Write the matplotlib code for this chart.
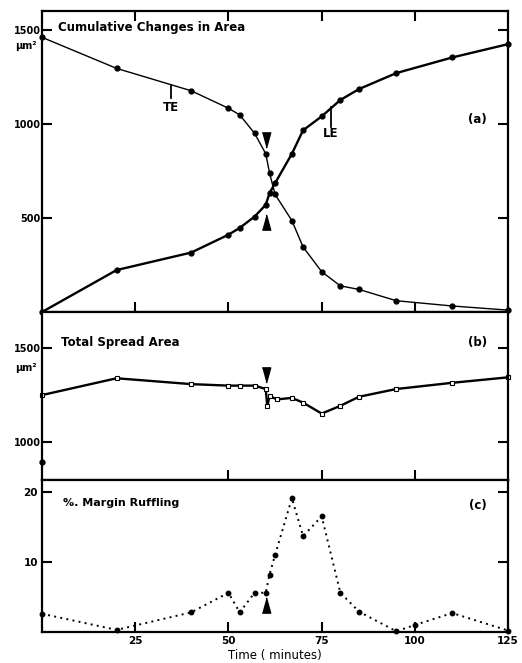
import matplotlib
matplotlib.use('Agg')
import matplotlib.pyplot as plt

plt.rcParams['font.family'] = ['DejaVu Sans']
plt.rcParams['font.weight'] = 'bold'

# ---- data ----
times = [0, 20, 40, 50, 53, 57, 60, 61, 62.5, 67, 70, 75, 80, 85, 95, 110, 125]
te_area = [1460, 1295, 1176, 1083, 1048, 950, 841, 740, 625, 486, 346, 214, 139, 120, 60, 32, 10]
le_area = [0, 223, 316, 411, 447, 507, 570, 632, 685, 841, 966, 1040, 1127, 1185, 1270, 1353, 1424]

spread_times = [0, 20, 40, 50, 53, 57, 60, 60.4, 61, 63, 67, 70, 75, 80, 85, 95, 110, 125]
spread_area = [1250, 1339, 1308, 1300, 1300, 1300, 1282, 1190, 1245, 1227, 1235, 1210, 1152,
               1193, 1241, 1282, 1315, 1344]
stray_time = [0]
stray_area = [895]

ruffle_times = [0, 20, 40, 50, 53, 57, 60, 61, 62.5, 67, 70, 75, 80, 85, 95, 100, 110, 125]
ruffle_pct = [2.6, 0.3, 2.8, 5.6, 2.8, 5.6, 5.6, 8.2, 11.0, 19.1, 13.7, 16.5, 5.6, 2.9, 0.1, 1.0, 2.7, 0.2]

treat_time = 60
x_ticks = [25, 50, 75, 100]

fig = plt.figure(figsize=(5.22, 6.63), dpi=100)
left, width = 0.0805, 0.893
ax_a = fig.add_axes([left, 0.5294, width, 0.4540])
ax_b = fig.add_axes([left, 0.2760, width, 0.2534])
ax_c = fig.add_axes([left, 0.0468, width, 0.2292])

for ax in (ax_a, ax_b, ax_c):
    ax.set_xlim(0, 125)
    for s in ax.spines.values():
        s.set_linewidth(1.6)
    ax.tick_params(direction='in', length=7, width=1.5, labelsize=7, pad=1,
                   left=True, right=True, top=True, bottom=True)

# triangle arrowhead shape (tall and narrow)
tri_down = [(-0.55, 1.0), (0.55, 1.0), (0.0, -1.0)]
tri_up = [(-0.55, -1.0), (0.55, -1.0), (0.0, 1.0)]

# ===== (a) cumulative changes =====
ax_a.plot(times, te_area, color='black', lw=1.0, marker='o', ms=3.5, clip_on=False)
ax_a.plot(times, le_area, color='black', lw=1.7, marker='o', ms=3.5, clip_on=False)
ax_a.set_ylim(0, 1600)
ax_a.set_yticks([500, 1000, 1500])
ax_a.set_yticklabels(['500', '1000', '1500'])
ax_a.set_xticks(x_ticks)
ax_a.tick_params(labelbottom=False)
ax_a.text(0.035, 0.945, 'Cumulative Changes in Area', transform=ax_a.transAxes,
          fontsize=8.5, va='center')
ax_a.text(0.935, 0.64, '(a)', transform=ax_a.transAxes, fontsize=8.5, va='center', ha='center')
ax_a.text(-0.012, 0.885, 'μm²', transform=ax_a.transAxes, fontsize=7, ha='right', va='center')
# TE / LE markers
ax_a.plot([34.6, 34.6], [1138, 1207], color='black', lw=1.3)
ax_a.text(34.6, 1085, 'TE', fontsize=8.5, ha='center', va='center')
ax_a.plot([77.5, 77.5], [985, 1090], color='black', lw=1.3)
ax_a.text(77.5, 948, 'LE', fontsize=8.5, ha='center', va='center')
ax_a.plot([treat_time], [912], marker=tri_down, ms=11, color='black', ls='none')
ax_a.plot([treat_time], [480], marker=tri_up, ms=11, color='black', ls='none')

# ===== (b) total spread area =====
ax_b.plot(spread_times, spread_area, color='black', lw=1.7, marker='s', ms=3,
          mfc='white', mec='black', mew=0.8, clip_on=False)
ax_b.plot(stray_time, stray_area, color='black', marker='o', ms=3.5, ls='none', clip_on=False)
ax_b.set_ylim(800, 1690)
ax_b.set_yticks([1000, 1500])
ax_b.set_yticklabels(['1000', '1500'])
ax_b.set_xticks([50, 75, 100])
ax_b.tick_params(labelbottom=False, top=False)
ax_b.text(0.04, 0.82, 'Total Spread Area', transform=ax_b.transAxes, fontsize=8.5, va='center')
ax_b.text(0.935, 0.82, '(b)', transform=ax_b.transAxes, fontsize=8.5, va='center', ha='center')
ax_b.text(-0.012, 0.665, 'μm²', transform=ax_b.transAxes, fontsize=7, ha='right', va='center')
ax_b.plot([treat_time], [1355], marker=tri_down, ms=11, color='black', ls='none')

# ===== (c) margin ruffling =====
ax_c.plot(ruffle_times, ruffle_pct, color='black', lw=1.4, ls=(0, (1, 2.2)), clip_on=False)
ax_c.plot(ruffle_times, ruffle_pct, color='black', marker='o', ms=3.2, ls='none', clip_on=False)
ax_c.set_ylim(0, 21.7)
ax_c.set_yticks([10, 20])
ax_c.set_yticklabels(['10', '20'])
ax_c.set_xticks(x_ticks + [125])
ax_c.set_xticklabels(['25', '50', '75', '100', '125'])
ax_c.tick_params(top=False, labelsize=7.5, pad=3)
ax_c.set_xlabel('Time ( minutes)', fontsize=8.5, labelpad=2)
ax_c.text(0.045, 0.85, '%. Margin Ruffling', transform=ax_c.transAxes, fontsize=8, va='center')
ax_c.text(0.935, 0.83, '(c)', transform=ax_c.transAxes, fontsize=8.5, va='center', ha='center')
ax_c.plot([treat_time], [3.9], marker=tri_up, ms=11, color='black', ls='none')

plt.savefig('out.png', dpi=100)
